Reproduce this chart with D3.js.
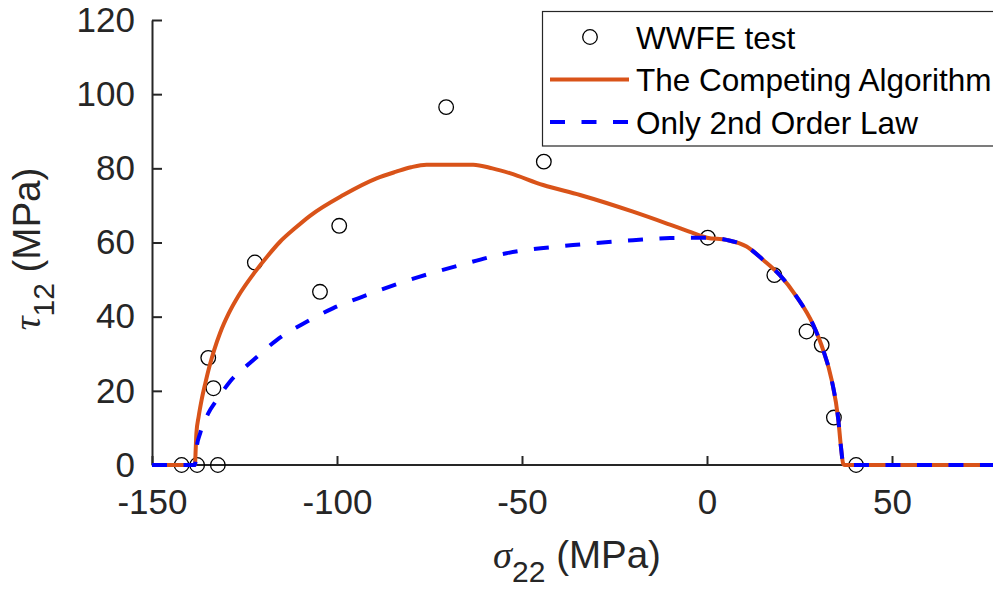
<!DOCTYPE html>
<html>
<head>
<meta charset="utf-8">
<script src="https://cdn.jsdelivr.net/npm/d3@7"></script>
<style>
  html, body { margin: 0; padding: 0; background: #fff; }
  svg { display: block; }
  text { font-family: "Liberation Sans", Arial, Helvetica, sans-serif; fill: #262626; }
</style>
</head>
<body>
<svg id="chart" width="993" height="590"></svg>
<script>
// ---- Data ----
const wwfeX = [-142, -137.8, -132.2, -134.8, -133.4, -122.2, -104.6, -99.4, -70.5, -44.1, 0.2, 18.2, 26.9, 31.0, 34.3, 40.3];
const wwfeY = [0, 0, 0, 28.9, 20.7, 54.6, 46.7, 64.5, 96.5, 81.8, 61.3, 51.2, 36.0, 32.4, 12.8, 0];

const compX = [-150, -138.4, -138.2, -138.0, -137.4, -136.6, -135.6, -134.5, -133.2, -131.6, -129.3, -126.7, -122.2, -118.8, -115.4, -111.3, -107.3, -98.3, -89.3, -84, -80, -75.8, -70, -63.2, -58, -53.3, -44.3, -34.3, -20, -10, -5, 0, 5.3, 10.7, 15.2, 19.7, 24.2, 28.7, 31.4, 33.7, 35.5, 36.2, 36.8, 37.2, 80];
const compY = [0, 0, 4, 8.6, 13, 17.5, 22, 26.5, 31, 35.6, 40.8, 45.5, 52, 56.3, 60.2, 63.9, 67.2, 72.8, 77.3, 79.1, 80.3, 81, 81, 81, 80, 78.7, 75.5, 72.8, 68.3, 64.8, 63, 61.3, 60.7, 58.9, 55.3, 51.2, 45.4, 37.8, 31.0, 22.9, 12.1, 4.9, 0.4, 0, 0];

const lawX = [-150, -138.4, -137.9, -137.0, -134.8, -132.5, -128.9, -122.6, -116.3, -108.2, -101.0, -92.0, -77.6, -66.7, -54.2, -36.2, -20, -10, 0, 5.3, 10.7, 15.2, 19.7, 24.2, 28.7, 31.4, 33.7, 35.5, 36.2, 36.8, 37.2, 80];
const lawY = [0, 0, 4.9, 8.5, 13.9, 17.5, 22.5, 28.3, 33.7, 38.6, 42.3, 45.8, 50.8, 53.9, 57.1, 59.3, 60.6, 61.2, 61.3, 60.7, 58.9, 55.3, 51.2, 45.4, 37.8, 31.0, 22.9, 12.1, 4.9, 0.4, 0, 0];

const xTicks = [-150, -100, -50, 0, 50];
const yTicks = [0, 20, 40, 60, 80, 100, 120];
const legendLabels = ["WWFE test", "The Competing Algorithm", "Only 2nd Order Law"];

// ---- Layout ----
const svg = d3.select("#chart");
const x = d3.scaleLinear().domain([-150, 80]).range([152, 1003]);
const y = d3.scaleLinear().domain([0, 120]).range([465, 20]);
const axisColor = "#262626";
const orange = "#D95319";
const blue = "#0000FF";
const fmt = d => String(d);

// Axes
const gx = svg.append("g").attr("transform", "translate(0,465)")
  .call(d3.axisBottom(x).tickValues(xTicks).tickSizeInner(-9).tickSizeOuter(0).tickPadding(24).tickFormat(fmt));
const gy = svg.append("g").attr("transform", "translate(152,0)")
  .call(d3.axisLeft(y).tickValues(yTicks).tickSizeInner(-10).tickSizeOuter(0).tickPadding(17).tickFormat(fmt));
[gx, gy].forEach(g => {
  g.select(".domain").attr("stroke", axisColor).attr("stroke-width", 2);
  g.selectAll(".tick line").attr("stroke", axisColor).attr("stroke-width", 2);
  g.selectAll(".tick text").attr("fill", axisColor).style("font-size", "35px")
    .style("font-family", "'Liberation Sans', Arial, sans-serif");
});
gx.select(".domain").attr("d", `M${x(-150)},0H1003`);

// Markers
svg.append("g").selectAll("circle").data(wwfeX.map((v, i) => [v, wwfeY[i]]))
  .join("circle")
  .attr("cx", d => x(d[0])).attr("cy", d => y(d[1])).attr("r", 7.3)
  .attr("fill", "none").attr("stroke", "#000").attr("stroke-width", 1.3);

const line = d3.line().x(d => x(d[0])).y(d => y(d[1])).curve(d3.curveMonotoneX);
svg.append("path").datum(compX.map((v, i) => [v, compY[i]]))
  .attr("d", line).attr("fill", "none").attr("stroke", orange).attr("stroke-width", 4)
  .attr("stroke-linejoin", "round");
svg.append("path").datum(lawX.map((v, i) => [v, lawY[i]]))
  .attr("d", line).attr("fill", "none").attr("stroke", blue).attr("stroke-width", 4)
  .attr("stroke-dasharray", "15 16.5");

// Axis labels
const xl = svg.append("text").attr("x", 577).attr("y", 568).attr("text-anchor", "middle").style("font-size", "38.5px");
xl.append("tspan").text("σ").style("font-family", "'Liberation Serif', serif").style("font-style", "italic");
xl.append("tspan").text("22").attr("dy", 14).style("font-size", "30px");
xl.append("tspan").text(" (MPa)").attr("dy", -14);

const yl = svg.append("text").attr("transform", "translate(40,249) rotate(-90)").attr("text-anchor", "middle").style("font-size", "38.5px");
yl.append("tspan").text("τ").style("font-family", "'Liberation Serif', serif").style("font-style", "italic");
yl.append("tspan").text("12").attr("dy", 14).style("font-size", "30px");
yl.append("tspan").text(" (MPa)").attr("dy", -14);

// Legend
const lg = svg.append("g");
lg.append("rect").attr("x", 542.5).attr("y", 11.5).attr("width", 480).attr("height", 134.5)
  .attr("fill", "#fff").attr("stroke", axisColor).attr("stroke-width", 1.2);
const rowY = [37, 79.5, 122];
lg.append("circle").attr("cx", 590).attr("cy", rowY[0]).attr("r", 7.3)
  .attr("fill", "none").attr("stroke", "#000").attr("stroke-width", 1.3);
lg.append("line").attr("x1", 550).attr("x2", 629).attr("y1", rowY[1]).attr("y2", rowY[1])
  .attr("stroke", orange).attr("stroke-width", 4);
lg.append("line").attr("x1", 550).attr("x2", 629).attr("y1", rowY[2]).attr("y2", rowY[2])
  .attr("stroke", blue).attr("stroke-width", 4).attr("stroke-dasharray", "15 16.5");
lg.selectAll("text.lab").data(legendLabels).join("text").attr("class", "lab")
  .attr("x", 636).attr("y", (d, i) => rowY[i] + 11.5)
  .style("font-size", "31.5px").style("fill", "#000").text(d => d);
</script>
</body>
</html>
